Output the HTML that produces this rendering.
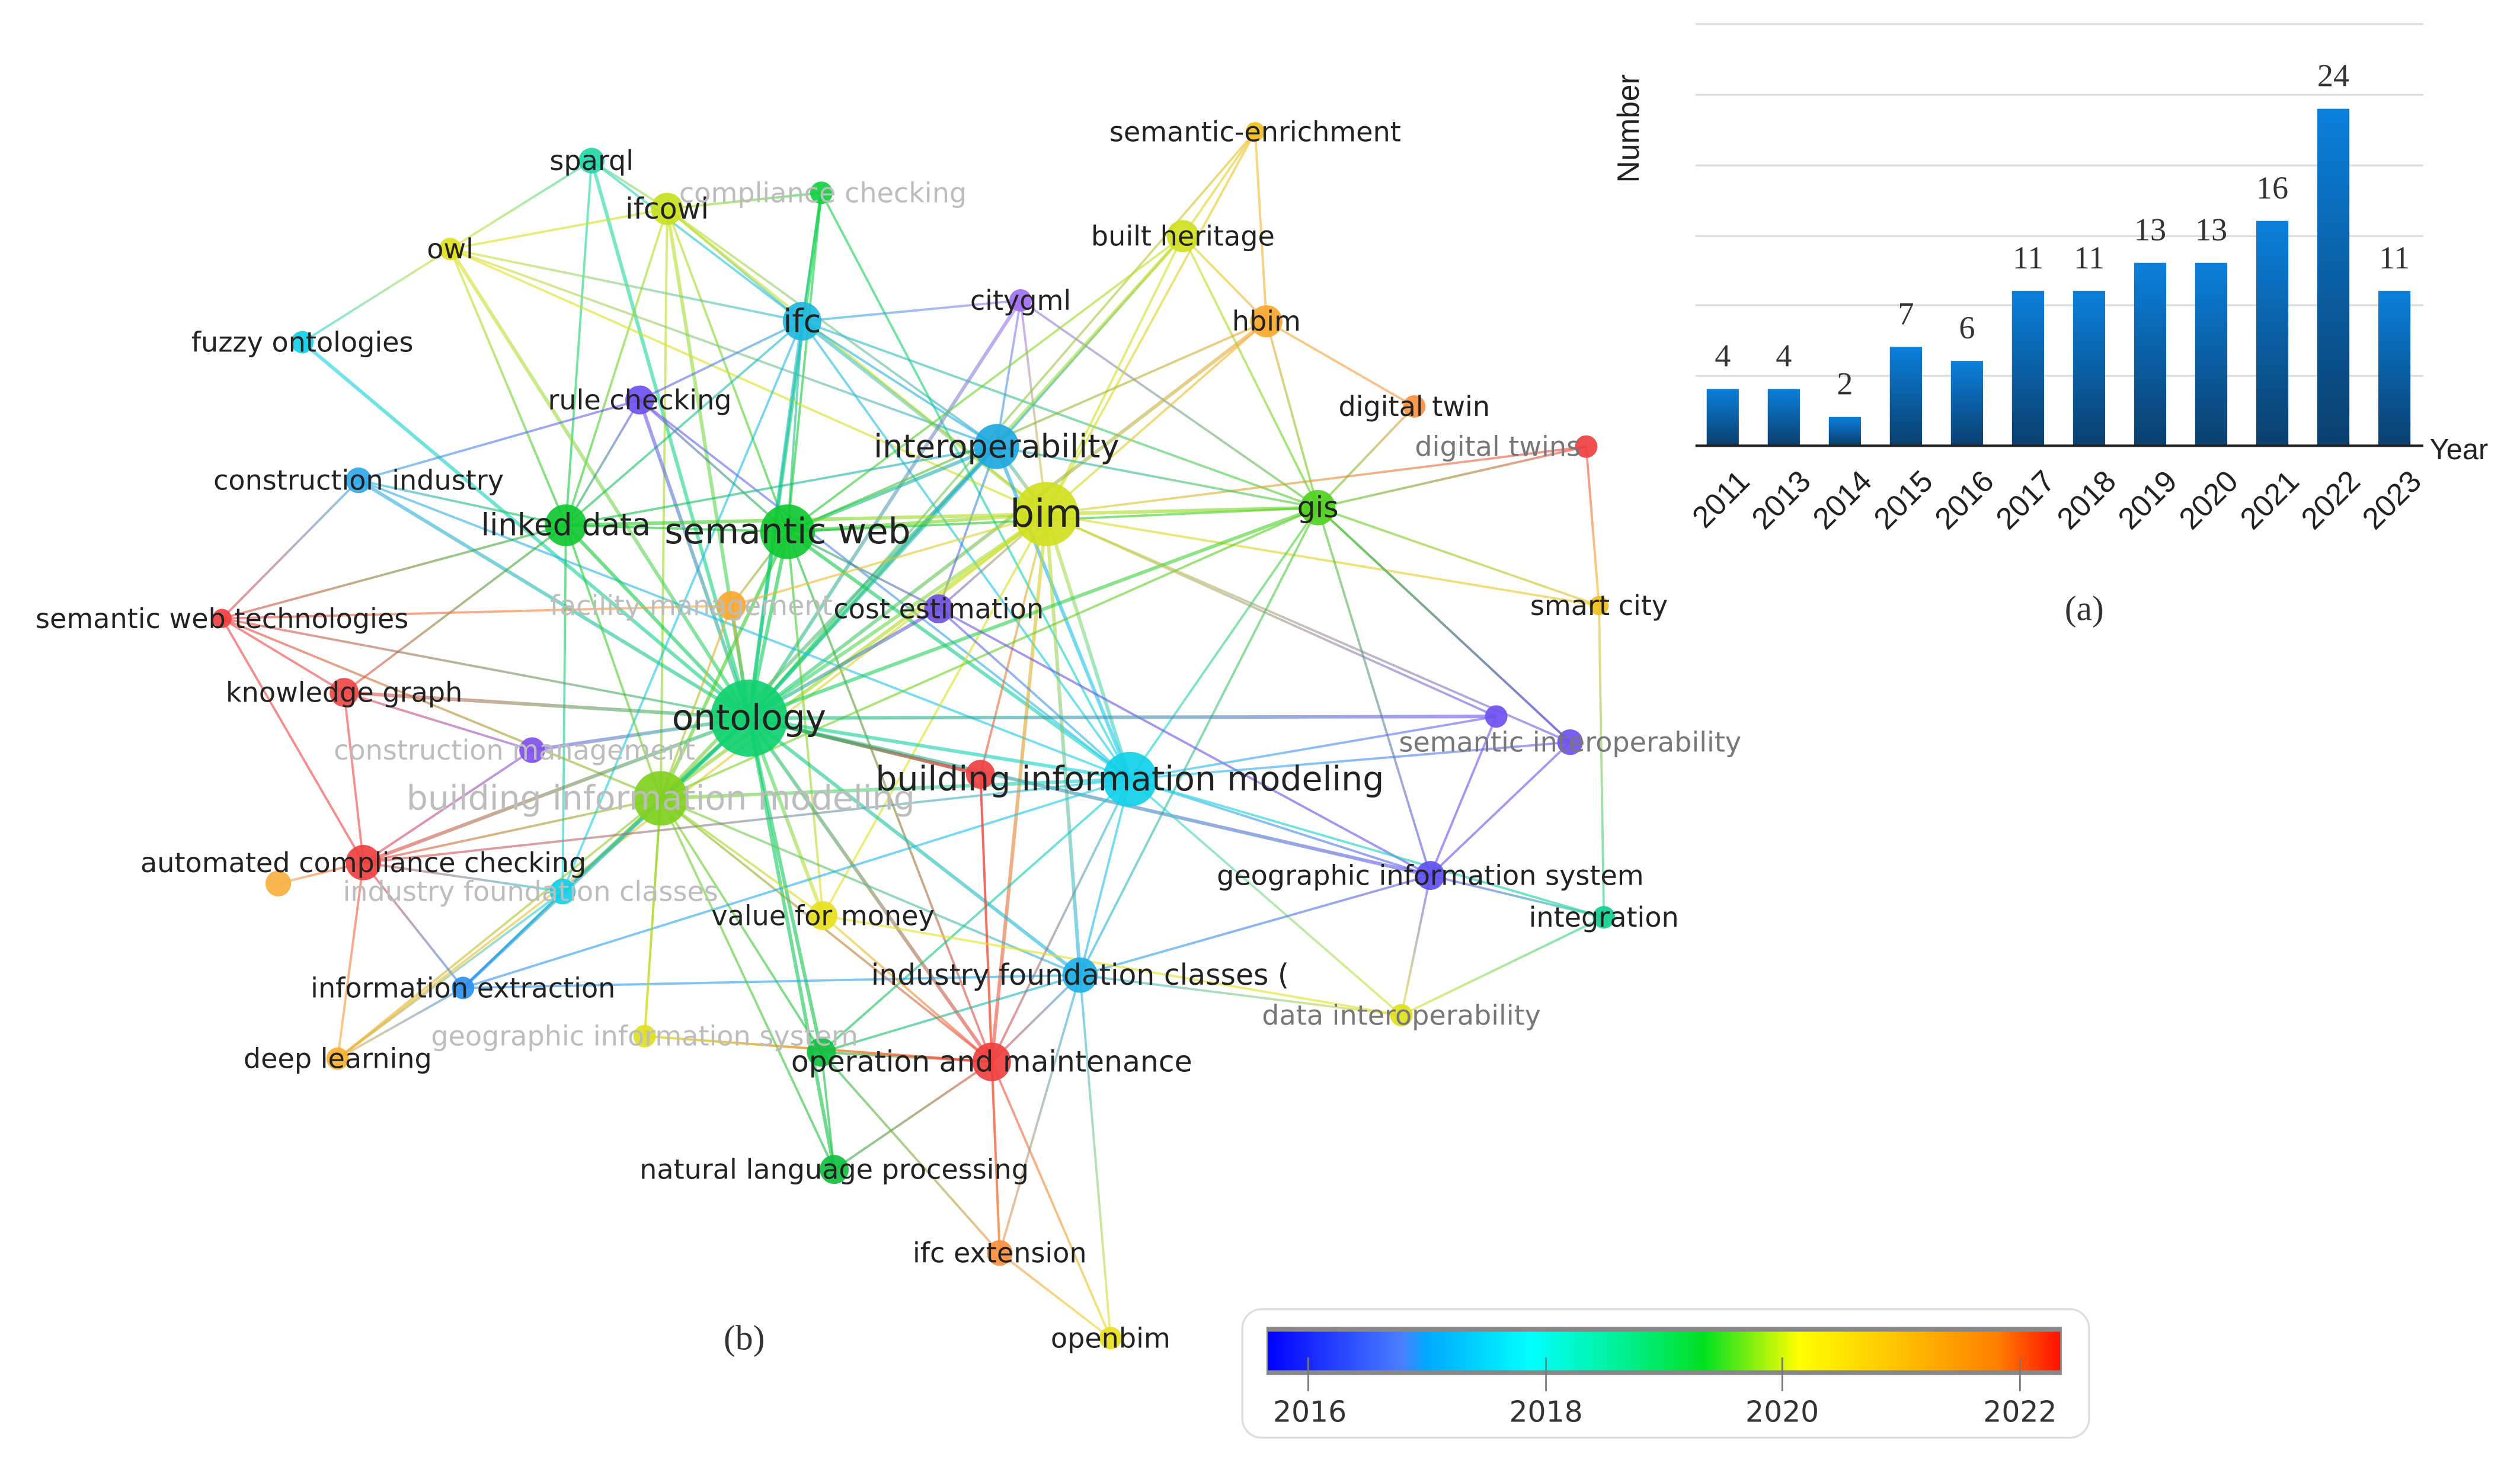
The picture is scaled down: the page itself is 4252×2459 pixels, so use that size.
<!DOCTYPE html>
<html><head><meta charset="utf-8">
<style>
html,body{margin:0;padding:0;background:#fff;}
svg{display:block;}
.l{font-family:"DejaVu Sans","Liberation Sans",sans-serif;fill:#222;text-anchor:middle;dominant-baseline:central;}
.f{fill:#bdbdbd;}
.s{font-family:"Liberation Serif",serif;fill:#333;text-anchor:middle;}
</style></head>
<body>
<svg id="g" width="4252" height="2459" viewBox="0 0 1568 907" xmlns="http://www.w3.org/2000/svg">
<defs>
<linearGradient id="bar" x1="0" y1="0" x2="0" y2="1">
<stop offset="0" stop-color="#0a80dc"/><stop offset="1" stop-color="#0a3f6e"/></linearGradient>
<linearGradient id="leg" x1="0" y1="0" x2="1" y2="0">
<stop offset="0" stop-color="#0000ff"/><stop offset="0.17" stop-color="#4a80ff"/><stop offset="0.2" stop-color="#00a8ff"/>
<stop offset="0.33" stop-color="#00ffff"/><stop offset="0.45" stop-color="#00f090"/><stop offset="0.55" stop-color="#00e020"/>
<stop offset="0.67" stop-color="#ffff00"/><stop offset="0.8" stop-color="#ffc000"/><stop offset="0.92" stop-color="#ff8000"/><stop offset="1" stop-color="#ff1000"/></linearGradient>
</defs>
<g id="edges"></g>
<g id="nodes"></g>
<g id="labels"></g>
<g stroke="#ddd" stroke-width="1.2">
<line x1="1055" y1="15" x2="1508" y2="15"/><line x1="1055" y1="59" x2="1508" y2="59"/>
<line x1="1055" y1="103" x2="1508" y2="103"/><line x1="1055" y1="147" x2="1508" y2="147"/>
<line x1="1055" y1="190" x2="1508" y2="190"/><line x1="1055" y1="234" x2="1508" y2="234"/>
</g>
<g id="bars"></g>
<line x1="1055" y1="277.5" x2="1508" y2="277.5" stroke="#222" stroke-width="1.5"/>
<text x="1013" y="80" transform="rotate(-90 1013 80)" font-family="Liberation Sans,sans-serif" font-size="19" fill="#222" text-anchor="middle" dominant-baseline="central">Number</text>
<text x="1512" y="280" font-family="Liberation Sans,sans-serif" font-size="18" fill="#222" dominant-baseline="central">Year</text>
<text x="1297" y="386" class="s" font-size="22">(a)</text>
<text x="463" y="840" class="s" font-size="22">(b)</text>
<rect x="773" y="815" width="527" height="80" rx="12" fill="#fff" stroke="#ddd" stroke-width="1.2"/>
<rect x="788" y="826" width="495" height="30" fill="#888"/>
<rect x="789" y="829" width="493" height="24" fill="url(#leg)"/>
<g stroke="#777" stroke-width="1"><line x1="814" y1="845" x2="814" y2="866"/><line x1="962" y1="845" x2="962" y2="866"/><line x1="1109" y1="845" x2="1109" y2="866"/><line x1="1257" y1="845" x2="1257" y2="866"/></g>
<g class="l" font-size="18" style="fill:#333"><text x="815" y="879">2016</text><text x="962" y="879">2018</text><text x="1109" y="879">2020</text><text x="1257" y="879">2022</text></g>
</svg>
<script>
var NS="http://www.w3.org/2000/svg";
function el(t,a,p){var e=document.createElementNS(NS,t);for(var k in a)e.setAttribute(k,a[k]);document.getElementById(p).appendChild(e);return e;}
var vals=[4,4,2,7,6,11,11,13,13,16,24,11],yrs=[2011,2013,2014,2015,2016,2017,2018,2019,2020,2021,2022,2023];
vals.forEach(function(v,i){var cx=1072+38*i,h=v*8.72;
el("rect",{x:cx-10,y:277-h,width:20,height:h,fill:"url(#bar)"},"bars");
var t=el("text",{x:cx,y:277-h-14,"font-family":"Liberation Serif,serif","font-size":"20",fill:"#333","text-anchor":"middle"},"bars");t.textContent=v;
var ax=cx+8,ay=291;
var y=el("text",{x:ax,y:ay,"font-family":"Liberation Sans,sans-serif","font-size":"19",fill:"#222","text-anchor":"end",transform:"rotate(-45 "+ax+" "+ay+")","dominant-baseline":"hanging"},"bars");y.textContent=yrs[i];});
var N={
sparql:[368,100,8,"#20d8a8","sparql",17],
ifcowl:[415,130,10,"#c8e020","ifcowl",18],
cc:[511,120,7,"#10d040","compliance checking",17,1,512,120],
owl:[280,155,7,"#e0e020","owl",17],
fuzzy:[188,213,7,"#10d0e8","fuzzy ontologies",17],
ifc:[499,200,12,"#20b8e0","ifc",20],
citygml:[635,187,7,"#a070f0","citygml",17],
rule:[398,249,9,"#7050f0","rule checking",17],
senr:[781,82,6,"#f0c020","semantic-enrichment",17],
built:[736,147,10,"#d0e020","built heritage",17],
hbim:[788,200,10,"#f8a830","hbim",17],
dtwin:[880,253,7,"#f89040","digital twin",17],
dtwins:[987,278,7,"#f04040","digital twins",17,2,932,278],
inter:[620,278,14,"#20a8e0","interoperability",20],
ci:[223,299,8,"#30a8e8","construction industry",17],
ld:[352,327,13,"#10c830","linked data",19],
sw:[490,331,17,"#10c830","semantic web",22],
bim:[651,320,20,"#d0e020","bim",24],
gis:[820,316,11,"#50d020","gis",18],
swt:[138,385,6,"#f04040","semantic web technologies",17],
fm:[455,377,9,"#f8a830","facility management",17,1,430,377],
cost:[584,379,9,"#7050e0","cost estimation",17],
smart:[995,377,6,"#f0c020","smart city",17],
kg:[214,431,9,"#f04848","knowledge graph",17],
onto:[466,447,24,"#10d070","ontology",22],
cm:[331,467,8,"#8050f0","construction management",17,1,320,467],
si2:[931,446,7,"#7050f0","",17],
si:[977,462,8,"#7050f0","semantic interoperability",17,2,977,462],
bimg:[411,497,17,"#80d020","building information modeling",21,1,411,497],
red:[610,482,9,"#f04040","",17],
bimc:[703,485,17,"#10d0e8","building information modeling",21,0,703,485],
acc:[226,537,11,"#f04040","automated compliance checking",17],
or:[173,550,8,"#f8b040","",17],
ifcf:[350,555,8,"#10d0e8","industry foundation classes",17,1,330,555],
vfm:[512,570,9,"#e8e020","value for money",17],
gisys:[890,545,9,"#6050f0","geographic information system",17],
integ:[998,571,7,"#10d090","integration",17],
ie:[288,615,7,"#3090f0","information extraction",17],
ifcc:[672,607,11,"#20b0e8","industry foundation classes (",18],
di:[872,632,7,"#e0e020","data interoperability",17,2],
gisf:[401,645,7,"#e0e020","geographic information system",17,1],
dl:[210,659,7,"#f8b030","deep learning",17],
om:[617,661,12,"#f04040","operation and maintenance",18,0,617,661],
omg:[511,655,9,"#10c040","",17],
nlp:[519,728,9,"#10c040","natural language processing",17],
ifce:[622,780,8,"#f89040","ifc extension",17],
openbim:[691,833,7,"#e8e020","openbim",17]};
var E="sparql-ifcowl sparql-owl sparql-ld sparql-ifc sparql-onto ifcowl-owl ifcowl-cc ifcowl-ifc ifcowl-sw ifcowl-onto ifcowl-bim ifcowl-inter ifcowl-ld ifcowl-bimg cc-ifc cc-sw cc-onto cc-bimc owl-fuzzy owl-ld owl-inter owl-ifc owl-bim owl-onto fuzzy-onto ifc-citygml ifc-sw ifc-onto ifc-bim ifc-inter ifc-rule ifc-ld ifc-bimc ifc-gis ifc-ifcf citygml-inter citygml-bim citygml-onto citygml-gis rule-ld rule-onto rule-ci rule-bimc rule-sw senr-built senr-hbim senr-bim senr-onto built-hbim built-bim built-gis built-sw built-onto built-inter hbim-bim hbim-dtwin hbim-gis hbim-sw hbim-onto dtwin-gis dtwins-bim dtwins-smart dtwins-gis inter-sw inter-bim inter-onto inter-bimc inter-ld inter-gis inter-cost inter-bimg ci-ld ci-onto ci-swt ci-bimc ld-sw ld-onto ld-bim ld-ifcf ld-swt ld-bimg ld-kg sw-bim sw-onto sw-bimg sw-bimc sw-cost sw-fm sw-gis sw-vfm sw-om bim-gis bim-onto bim-bimc bim-bimg bim-smart bim-si bim-cost bim-ifcc bim-om bim-red bim-dl bim-fm bim-vfm gis-onto gis-bimc gis-si gis-smart gis-gisys gis-bimg gis-ifcc swt-kg swt-acc swt-onto swt-bimg kg-acc kg-onto kg-cm fm-onto fm-swt fm-bimg cost-onto cost-bimc cost-gisys onto-bimg onto-bimc onto-om onto-omg onto-nlp onto-ifcc onto-vfm onto-acc onto-ifcf onto-ie onto-red onto-gisys onto-cm onto-si2 bimg-acc bimg-ie bimg-dl bimg-omg bimg-om bimg-gisf bimg-ifcc bimg-bimc bimc-ifcc bimc-gisys bimc-si bimc-om bimc-integ bimc-di bimc-omg bimc-ie bimc-si2 red-om red-ifce red-onto acc-or acc-dl acc-ie acc-bimc acc-cm acc-ifcf ifcf-dl ifcf-ie gisys-si gisys-integ gisys-di gisys-si2 gisys-ifcc integ-smart integ-di si2-bim si-gis ifcc-om ifcc-openbim ifcc-di ifcc-ie ifcc-omg om-nlp om-ifce om-openbim om-omg om-gisf omg-nlp omg-ifce nlp-bimg ifce-openbim ifce-ifcc vfm-om vfm-bimg gisf-bimg gisf-om di-vfm ie-dl".split(" ");
E.forEach(function(p,i){var a=p.split("-"),A=N[a[0]],B=N[a[1]];if(!A||!B)return;
var id="e"+i;var g=el("linearGradient",{id:id,gradientUnits:"userSpaceOnUse",x1:A[0],y1:A[1],x2:B[0],y2:B[1]},"edges");
var s1=document.createElementNS(NS,"stop");s1.setAttribute("offset","0");s1.setAttribute("stop-color",A[3]);g.appendChild(s1);
var s2=document.createElementNS(NS,"stop");s2.setAttribute("offset","1");s2.setAttribute("stop-color",B[3]);g.appendChild(s2);
var w=(A[2]+B[2])>30?2.2:1.4;
el("line",{x1:A[0],y1:A[1],x2:B[0],y2:B[1],stroke:"url(#"+id+")","stroke-width":w,"stroke-opacity":0.6},"edges");});
for(var k in N){var n=N[k];el("circle",{cx:n[0],cy:n[1],r:n[2],fill:n[3],"fill-opacity":0.92},"nodes");}
for(var k in N){var n=N[k];if(!n[4])continue;var lx=n[7]!==undefined?n[7]:n[0],ly=n[8]!==undefined?n[8]:n[1];
var cls="l"+(n[6]==1?" f":"");var t=el("text",{x:lx,y:ly,"font-size":n[5],"class":cls},"labels");
if(n[6]==2)t.setAttribute("style","fill:#777");t.textContent=n[4];}
</script>
</body></html>
